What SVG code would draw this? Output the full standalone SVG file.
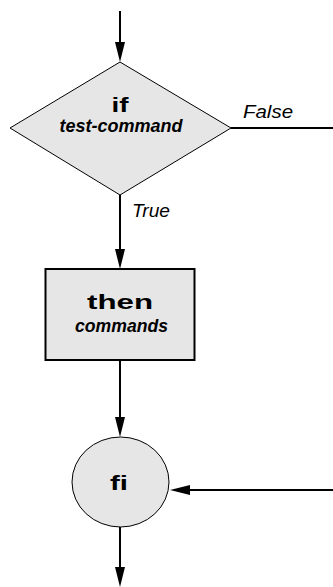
<svg xmlns="http://www.w3.org/2000/svg" width="333" height="587" viewBox="0 0 333 587">
<style>
.shape{fill:#e6e6e6;stroke:#000}
.conn{stroke:#000;stroke-width:2;fill:none}
.b{font-family:"Liberation Sans",Arial,sans-serif;font-weight:bold;fill:#000}
.bi{font-family:"Liberation Sans",Arial,sans-serif;font-weight:bold;font-style:italic;fill:#000}
.i{font-family:"Liberation Sans",Arial,sans-serif;font-style:italic;fill:#000}
</style>
<defs>
<marker id="arr" markerUnits="userSpaceOnUse" markerWidth="20" markerHeight="10" viewBox="0 -5 20 10" refX="0" refY="0" orient="auto">
<path d="M0,-5 L20,0 L0,5 Z" fill="#000"/>
</marker>
</defs>
<rect width="333" height="587" fill="#fff"/>
<g id="connectors">
<line class="conn" x1="120" y1="11" x2="120" y2="42" marker-end="url(#arr)"/>
<line class="conn" x1="120" y1="195" x2="120" y2="249" marker-end="url(#arr)"/>
<line class="conn" x1="120" y1="361" x2="120" y2="417" marker-end="url(#arr)"/>
<line class="conn" x1="120" y1="527" x2="120" y2="567" marker-end="url(#arr)"/>
<line class="conn" x1="231" y1="128" x2="333" y2="128"/>
<line class="conn" x1="333" y1="490" x2="190" y2="490" marker-end="url(#arr)"/>
<text class="i" x="243" y="118" font-size="18" textLength="50" lengthAdjust="spacingAndGlyphs">False</text>
<text class="i" x="132" y="217" font-size="18" textLength="38" lengthAdjust="spacingAndGlyphs">True</text>
</g>
<g id="if">
<polygon class="shape" stroke-width="1" points="120,62 231,128 120,195 10,128"/>
<text class="b" x="120" y="112" font-size="20" text-anchor="middle" textLength="17" lengthAdjust="spacingAndGlyphs">if</text>
<text class="bi" x="121" y="132" font-size="18" text-anchor="middle" textLength="123" lengthAdjust="spacingAndGlyphs">test-command</text>
</g>
<g id="then">
<rect class="shape" stroke-width="2" x="45.5" y="269" width="149" height="91"/>
<text class="b" x="120" y="309" font-size="20" text-anchor="middle" textLength="66" lengthAdjust="spacingAndGlyphs">then</text>
<text class="bi" x="121.5" y="332" font-size="19" text-anchor="middle" textLength="93" lengthAdjust="spacingAndGlyphs">commands</text>
</g>
<g id="fi">
<ellipse class="shape" stroke-width="1" cx="120.5" cy="482" rx="48.5" ry="45"/>
<text class="b" x="119" y="490" font-size="21" text-anchor="middle" textLength="18" lengthAdjust="spacingAndGlyphs">fi</text>
</g>
</svg>
